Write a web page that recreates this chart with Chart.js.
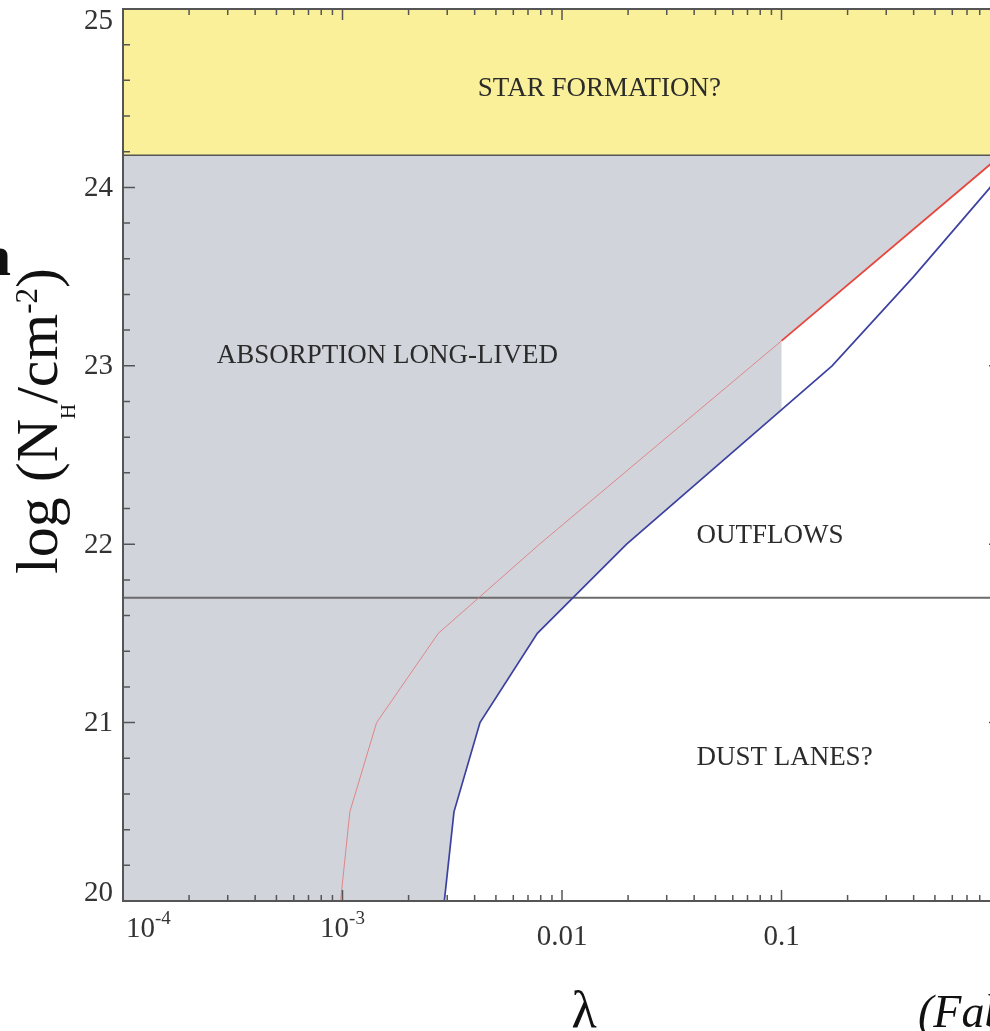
<!DOCTYPE html>
<html>
<head>
<meta charset="utf-8">
<script src="https://cdn.jsdelivr.net/npm/chart.js@4.4.1/dist/chart.umd.min.js"></script>
<style>
  html,body{margin:0;padding:0;background:#fff;overflow:hidden;width:990px;height:1031px;}
  canvas{display:block;}
</style>
</head>
<body>
<canvas id="nh" width="1010" height="1031"></canvas>
<script>
// lower (blue) boundary, lambda vs log NH
const blueLambda = [0.00291, 0.00322, 0.00423, 0.00772, 0.0197, 0.17, 0.4, 1];
const blueLogNH  = [20, 20.5, 21, 21.5, 22, 23, 23.5, 24.07];
// upper (red) boundary
const redLambda = [0.00098, 0.00108, 0.00143, 0.00273, 0.0079, 0.1, 1];
const redLogNH  = [20, 20.5, 21, 21.5, 22, 23.14, 24.18];
// region limits
const starFormationNH = 24.18;
const dustLaneNH = 21.7;
const grayCutLambda = 0.1;
const blueAtCut = 22.76;
// axes
const xRange = [1e-4, 1];
const yRange = [20, 25];
const yTickValues = [20, 21, 22, 23, 24, 25];
const xTickValues = [1e-4, 1e-3, 0.01, 0.1, 1];
const xTickLabels = [['10','-4'], ['10','-3'], ['0.01'], ['0.1'], ['1']];
const regionNames = ['STAR FORMATION?', 'ABSORPTION LONG-LIVED', 'OUTFLOWS', 'DUST LANES?'];

const pts = (xs, ys) => xs.map((v, i) => ({x: v, y: ys[i]}));

// gray zone: above blue up to the 0.1 cut, then above red
const grayPts = [{x: xRange[0], y: yRange[0]}];
blueLambda.forEach((l, i) => { if (l < grayCutLambda) grayPts.push({x: l, y: blueLogNH[i]}); });
grayPts.push({x: grayCutLambda, y: blueAtCut});
redLambda.forEach((l, i) => { if (l >= grayCutLambda) grayPts.push({x: l, y: redLogNH[i]}); });

const redThin = pts(redLambda, redLogNH).filter(p => p.x <= grayCutLambda);
const redBold = pts(redLambda, redLogNH).filter(p => p.x >= grayCutLambda);

const serif = '"Liberation Serif", "DejaVu Serif", serif';

const framePlugin = {
  id: 'frame',
  afterDraw(chart) {
    const {ctx, chartArea: a, scales: {x, y}} = chart;
    ctx.save();
    ctx.strokeStyle = '#555';
    ctx.lineWidth = 1.5;
    // y ticks, every 0.2
    for (let i = 0; i <= 25; i++) {
      const py = y.getPixelForValue(20 + i * 0.2);
      const len = i % 5 === 0 ? 12 : 7;
      ctx.beginPath();
      ctx.moveTo(a.left, py); ctx.lineTo(a.left + len, py);
      ctx.moveTo(a.right, py); ctx.lineTo(a.right - len, py);
      ctx.stroke();
    }
    // x ticks, decades + minors
    for (let d = -4; d <= 0; d++) {
      for (let m = 1; m <= 9; m++) {
        const v = m * Math.pow(10, d);
        if (v > 1.0001) break;
        const px = x.getPixelForValue(v);
        const len = m === 1 ? 11 : 6;
        ctx.beginPath();
        ctx.moveTo(px, a.bottom); ctx.lineTo(px, a.bottom - len);
        ctx.moveTo(px, a.top); ctx.lineTo(px, a.top + len);
        ctx.stroke();
      }
    }
    ctx.lineWidth = 2;
    ctx.strokeRect(a.left, a.top, a.right - a.left, a.bottom - a.top);

    // tick labels (end labels kept inside the frame height)
    ctx.fillStyle = '#333';
    ctx.font = '29px ' + serif;
    ctx.textAlign = 'right';
    ctx.textBaseline = 'middle';
    yTickValues.forEach(v => {
      let py = y.getPixelForValue(v) + 1;
      py = Math.min(Math.max(py, a.top + 12), a.bottom - 8);
      ctx.fillText(String(v), 113, py);
    });

    ctx.textBaseline = 'alphabetic';
    ctx.textAlign = 'left';
    xTickValues.forEach((v, i) => {
      const lab = xTickLabels[i];
      const px = x.getPixelForValue(v);
      ctx.font = '29px ' + serif;
      const w0 = ctx.measureText(lab[0]).width;
      let w1 = 0;
      if (lab[1]) { ctx.font = '19px ' + serif; w1 = ctx.measureText(lab[1]).width; }
      let left = px - (w0 + w1) / 2;
      if (left < a.left + 3) left = a.left + 3;
      const base = lab[1] ? 937 : 945;
      ctx.font = '29px ' + serif;
      ctx.fillText(lab[0], left, base);
      if (lab[1]) { ctx.font = '19px ' + serif; ctx.fillText(lab[1], left + w0, base - 13); }
    });

    // region labels
    ctx.fillStyle = '#2b2b2b';
    ctx.font = '27px ' + serif;
    ctx.textAlign = 'center';
    ctx.textBaseline = 'middle';
    const spots = [[0.0148, 24.554], [0.0016, 23.057], [0.0886, 22.047], [0.1032, 20.80]];
    regionNames.forEach((t, i) => ctx.fillText(t, x.getPixelForValue(spots[i][0]), y.getPixelForValue(spots[i][1])));

    // y title
    ctx.textBaseline = 'alphabetic';
    ctx.save();
    ctx.translate(57, 421);
    ctx.rotate(-Math.PI / 2);
    ctx.fillStyle = '#111';
    ctx.textAlign = 'left';
    const parts = [['log (N', 60, 0], ['H', 21, 18], ['/cm', 60, 0], ['-2', 31, -20], [')', 60, 0]];
    let tot = 0;
    parts.forEach(p => { ctx.font = p[1] + 'px ' + serif; tot += ctx.measureText(p[0]).width; });
    let cx = -tot / 2;
    parts.forEach(p => { ctx.font = p[1] + 'px ' + serif; ctx.fillText(p[0], cx, p[2]); cx += ctx.measureText(p[0]).width; });
    ctx.restore();

    // x title and source
    ctx.fillStyle = '#111';
    ctx.textAlign = 'center';
    ctx.font = '52px ' + serif;
    ctx.fillText('\u03bb', 584, 1027);
    ctx.textAlign = 'left';
    ctx.font = 'italic 46px ' + serif;
    ctx.fillText('(Fabian et al. 2008)', 918, 1027);
    // cut-off word at the left edge
    ctx.font = 'bold 56px ' + serif;
    ctx.textAlign = 'right';
    ctx.fillText('n', 11, 275);
    ctx.restore();
  }
};

new Chart(document.getElementById('nh').getContext('2d'), {
  type: 'line',
  data: {
    datasets: [
      { data: [{x: xRange[0], y: yRange[1]}, {x: xRange[1], y: yRange[1]}], fill: {value: starFormationNH},
        backgroundColor: '#faf09a', borderWidth: 0, pointRadius: 0, order: 10 },
      { data: grayPts, fill: {value: starFormationNH}, backgroundColor: '#d1d4db',
        borderWidth: 0, pointRadius: 0, order: 9 },
      { data: [{x: xRange[0], y: starFormationNH}, {x: xRange[1], y: starFormationNH}], fill: false,
        borderColor: '#555', borderWidth: 1.5, pointRadius: 0, order: 5 },
      { data: [{x: xRange[0], y: dustLaneNH}, {x: xRange[1], y: dustLaneNH}], fill: false,
        borderColor: '#6b6b6b', borderWidth: 2, pointRadius: 0, order: 5 },
      { data: redThin, fill: false, borderColor: 'rgba(226,120,120,0.85)', borderWidth: 1, pointRadius: 0, order: 2 },
      { data: redBold, fill: false, borderColor: '#e8463c', borderWidth: 1.8, pointRadius: 0, order: 2 },
      { data: pts(blueLambda, blueLogNH), fill: false, borderColor: '#3c41a0', borderWidth: 1.7, pointRadius: 0, order: 1 }
    ]
  },
  options: {
    responsive: false,
    animation: false,
    devicePixelRatio: 1,
    layout: { padding: { left: 123, right: 9, top: 9, bottom: 130 } },
    plugins: { legend: { display: false }, tooltip: { enabled: false } },
    elements: { line: { tension: 0 } },
    scales: {
      x: { type: 'logarithmic', min: xRange[0], max: xRange[1], display: false },
      y: { type: 'linear', min: yRange[0], max: yRange[1], display: false }
    }
  },
  plugins: [framePlugin]
});
</script>
</body>
</html>
